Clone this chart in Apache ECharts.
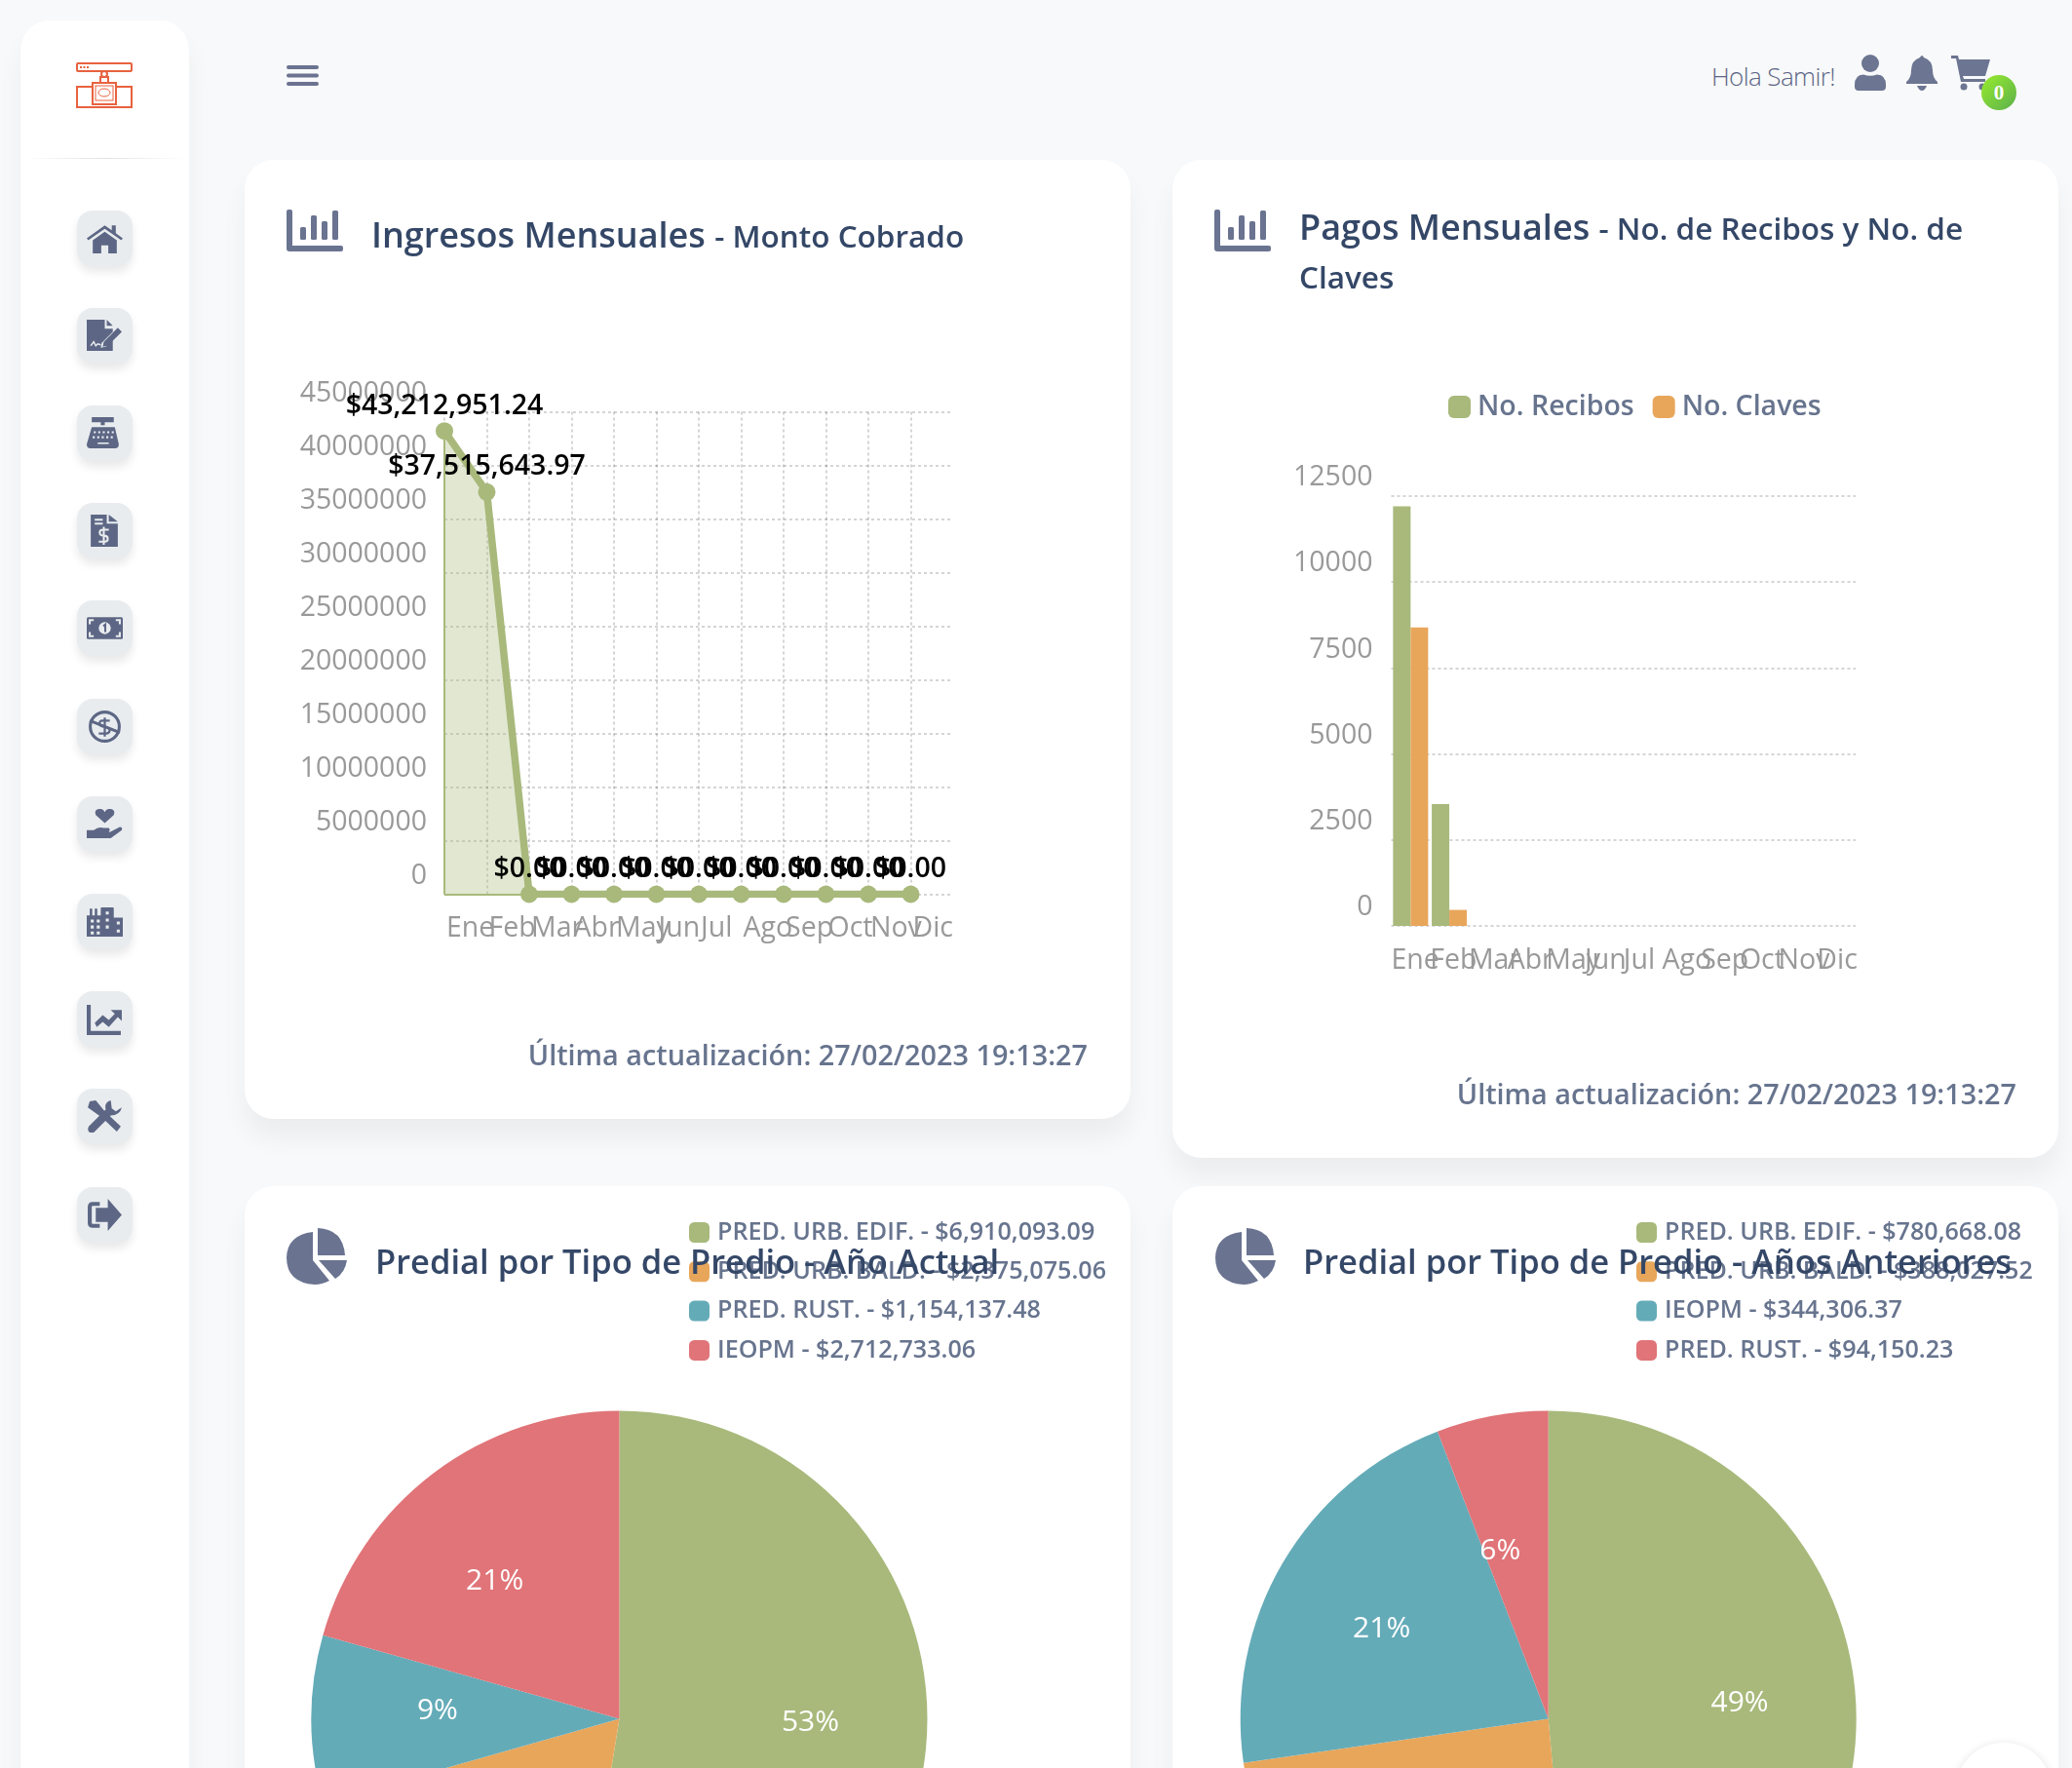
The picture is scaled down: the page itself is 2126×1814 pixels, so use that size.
<!DOCTYPE html>
<html lang="es">
<head>
<meta charset="UTF-8">
<title>Dashboard</title>
<script src="https://cdn.jsdelivr.net/npm/echarts@6/dist/echarts.min.js"></script>
<style>
html,body{margin:0;width:2126px;height:1814px;overflow:hidden;background:#f8f9fa;font-family:"Open Sans",sans-serif;color:#67748e}
.abs,.card,.side,.btn,.ttl,.upd,.chart{position:absolute}
.card,.side{background:#fff;border-radius:30px;box-shadow:0 20px 27px 0 rgba(0,0,0,.05)}
.side{left:21px;top:21px;width:173px;height:1900px}
.rule{position:absolute;left:4px;top:141px;width:165px;height:1px;background:linear-gradient(90deg,transparent,#dfe1e4,transparent)}
.btn{left:79px;width:57px;height:57px;border-radius:16px;background:#e9ecef;box-shadow:0 6px 10px rgba(0,0,0,.09);display:flex;align-items:center;justify-content:center;color:#5d6785}
.ttl{font-size:36px;font-weight:600;color:#344767;line-height:50px;white-space:nowrap;z-index:3}
.ttl small{font-size:31.5px}
.ttl.pie{font-size:34.5px}
.upd{font-size:28.8px;font-weight:600;white-space:nowrap;line-height:40px;z-index:3}
.chart{left:0;top:0;z-index:2}
svg{display:block;fill:currentColor}
</style>
</head>
<body>
<div class="side"><div class="rule"></div></div>
<svg class="abs" style="left:78px;top:63px;color:#e8623f;fill:none;stroke:currentColor;stroke-width:2" width="58" height="50" viewBox="0 0 58 50">
  <rect x="1" y="2" width="56" height="8" rx="1"/><path d="M4 6h9" stroke-dasharray="2 1.5"/>
  <circle cx="29" cy="13" r="3"/><rect x="25" y="16" width="8" height="6"/>
  <path d="M17 26H1v21h56V26H41"/><rect x="17" y="22" width="24" height="22"/><rect x="20" y="25" width="18" height="15" stroke-width="1"/>
  <ellipse cx="29" cy="32" rx="6" ry="4" stroke-width="1"/>
</svg>
<svg class="abs" style="left:294px;top:67px;color:#6b7390" width="33" height="21" viewBox="0 0 33 21"><rect width="33" height="4" rx="2"/><rect y="8.5" width="33" height="4" rx="2"/><rect y="17" width="33" height="4" rx="2"/></svg>
<div class="abs" style="left:1756px;top:58px;font-size:26px;font-weight:300;line-height:40px;white-space:nowrap;letter-spacing:-.6px;color:#5c6685">Hola Samir!</div>
<svg class="abs" style="left:1903px;top:56px;color:#6c7591" width="32" height="37" viewBox="0 0 32 37"><circle cx="16" cy="9" r="9"/><path d="M0 31Q0 21 9 20.5Q16 23 23 20.5Q32 21 32 31V33Q32 37 28 37H4Q0 37 0 33Z"/></svg>
<svg class="abs" style="left:1956px;top:56px;color:#6c7591" width="32" height="37" viewBox="0 0 32 37"><path d="M14 3Q16 -1 18 3Q27 6 27 16Q27 24 32 28V30H0V28Q5 24 5 16Q5 6 14 3Z"/><path d="M11 32H21Q19 37 16 37Q13 37 11 32Z"/></svg>
<svg class="abs" style="left:2001px;top:56px;color:#6c7591" width="41" height="37" viewBox="0 0 41 37"><path d="M1 1H8L9 5H41L36 22H13L14 25H36V28H11L6 4H1Z"/><circle cx="14" cy="33" r="3.5"/><circle cx="33" cy="33" r="3.5"/></svg>
<div class="abs" style="left:2033px;top:77px;width:36px;height:36px;border-radius:50%;background:linear-gradient(135deg,#98ec2d,#5cb04c);color:#fff;font:bold 21px/36px 'Liberation Serif',serif;text-align:center;z-index:4">0</div>

<div class="card" style="left:251px;top:164px;width:909px;height:984px"><div class="chart" id="ingresos" style="width:909px;height:984px"></div></div>
<div class="card" style="left:1203px;top:164px;width:909px;height:1024px"><div class="chart" id="pagos" style="width:909px;height:1024px"></div></div>
<div class="card" style="left:251px;top:1217px;width:909px;height:800px"><div class="chart" id="pie1" style="width:909px;height:597px"></div></div>
<div class="card" style="left:1203px;top:1217px;width:909px;height:800px"><div class="chart" id="pie2" style="width:909px;height:597px"></div></div>

<div class="ttl" style="left:381px;top:216px">Ingresos Mensuales <small>- Monto Cobrado</small></div>
<div class="ttl" style="left:1333px;top:208px;line-height:49px">Pagos Mensuales <small>- No. de Recibos y No. de<br>Claves</small></div>
<div class="ttl pie" style="left:385px;top:1269px">Predial por Tipo de Predio - Año Actual</div>
<div class="ttl pie" style="left:1337px;top:1269px">Predial por Tipo de Predio - Años Anteriores</div>
<div class="upd" style="right:1010px;top:1062px">Última actualización: 27/02/2023 19:13:27</div>
<div class="upd" style="right:57px;top:1102px">Última actualización: 27/02/2023 19:13:27</div>
<div class="abs" style="left:2006px;top:1788px;width:100px;height:100px;border-radius:50%;background:#fff;box-shadow:0 2px 10px rgba(0,0,0,.14);z-index:5"></div>

<script>
// datos
var meses = ['Ene','Feb','Mar','Abr','May','Jun','Jul','Ago','Sep','Oct','Nov','Dic'];
var montoCobrado = [43212951.24,37515643.97,0,0,0,0,0,0,0,0,0,0];
var noRecibos = [12200,3540,0,0,0,0,0,0,0,0,0,0];
var noClaves = [8680,466,0,0,0,0,0,0,0,0,0,0];
var prediosActual = ['PRED. URB. EDIF.','PRED. URB. BALD.','PRED. RUST.','IEOPM'];
var montosActual = [6910093.09,2375075.06,1154137.48,2712733.06];
var prediosAnteriores = ['PRED. URB. EDIF.','PRED. URB. BALD.','IEOPM','PRED. RUST.'];
var montosAnteriores = [780668.08,388027.52,344306.37,94150.23];

var VERDE='#a8b97b', NARANJA='#e8a65b', TEAL='#64abb8', ROJO='#e07478';
var FONT='"Open Sans",sans-serif';
var GRID_LINE={show:true,lineStyle:{color:'rgba(0,0,0,.22)',type:[3,3],width:1.5}};
var LABEL_GRIS={color:'#999',fontSize:28.5,fontFamily:FONT};

function money(v){return '$'+v.toLocaleString('en-US',{minimumFractionDigits:2,maximumFractionDigits:2})}

// eje de etiquetas alineadas al tick, como en la imagen
function ejeMeses(vertical){
  return {type:'category',data:meses.concat(''),boundaryGap:false,
    axisLine:{show:false},axisTick:{show:false},
    axisLabel:Object.assign({},LABEL_GRIS,{interval:0,align:'left',margin:21,padding:[0,0,0,vertical?2:0]}),
    splitLine:vertical?Object.assign({},GRID_LINE,{interval:function(i){return i<12}}):{show:false}};
}
function ejeValor(max,step,margin){
  return {type:'value',min:0,max:max,interval:step,axisLine:{show:false},axisTick:{show:false},
    axisLabel:Object.assign({},LABEL_GRIS,{margin:margin,verticalAlign:'bottom',padding:[0,0,4.5,0],
      formatter:function(v){return String(v)}}),
    splitLine:GRID_LINE};
}

echarts.init(document.getElementById('ingresos')).setOption({
  animation:false,
  grid:{left:205,top:258.5,width:522,height:495},
  xAxis:ejeMeses(true),
  yAxis:ejeValor(45000000,5000000,18),
  series:[{type:'line',data:montoCobrado,symbol:'circle',symbolSize:18,
    itemStyle:{color:VERDE},lineStyle:{color:VERDE,width:7.5},areaStyle:{color:VERDE,opacity:.35},
    label:{show:true,position:'top',distance:2,color:'#000',fontSize:28.5,fontWeight:600,fontFamily:FONT,
      formatter:function(p){return money(p.value)}},
    markLine:{silent:true,symbol:'none',label:{show:false},lineStyle:{color:VERDE,width:2,type:'solid'},
      data:[[{xAxis:0,yAxis:0},{xAxis:0,yAxis:montoCobrado[0]}],[{xAxis:0,yAxis:0},{xAxis:2,yAxis:0}]]}}]
});

echarts.init(document.getElementById('pagos')).setOption({
  animation:false,
  color:[VERDE,NARANJA],
  legend:{left:278,top:234,itemWidth:23,itemHeight:23,itemGap:19,icon:'roundRect',selectedMode:false,
    textStyle:{color:'#67748e',fontSize:28.5,fontWeight:600,fontFamily:FONT,padding:[0,0,0,2]}},
  grid:{left:224.5,top:345,width:476.5,height:441},
  xAxis:[ejeMeses(false),{type:'category',data:meses,show:false}],
  yAxis:ejeValor(12500,2500,19),
  series:[
    {name:'No. Recibos',type:'bar',xAxisIndex:1,data:noRecibos,barWidth:18,barGap:0},
    {name:'No. Claves',type:'bar',xAxisIndex:1,data:noClaves,barWidth:18,barGap:0}
  ]
});

function pastel(id,nombres,montos,cx,legendLeft,ajuste){
  var chart=echarts.init(document.getElementById(id));
  chart.setOption({
    animation:false,
    color:[VERDE,NARANJA,TEAL,ROJO],
    legend:{orient:'vertical',left:legendLeft,top:30,itemWidth:21,itemHeight:21,itemGap:15.3,icon:'roundRect',selectedMode:false,
      formatter:function(n){return n+' - '+money(montos[nombres.indexOf(n)])},
      textStyle:{color:'#67748e',fontSize:25.1,fontWeight:600,fontFamily:FONT,padding:[0,0,0,3]}},
    series:[{type:'pie',center:[cx,546.5],radius:316,startAngle:90,clockwise:true,avoidLabelOverlap:false,
      data:nombres.map(function(n,i){return {name:n,value:montos[i]}}),
      label:{position:'inside',color:'#fff',fontSize:30,fontFamily:FONT,
        formatter:function(p){return Math.round(p.percent)+'%'}},
      labelLine:{show:false},
      labelLayout:function(p){
        var r=p.labelRect, k=190/158-1, a=ajuste[p.dataIndex];
        return {dx:(r.x+r.width/2-cx)*k+a[0],dy:(r.y+r.height/2-546.5)*k-11+a[1]};
      }}]
  });
}
pastel('pie1',prediosActual,montosActual,384.5,451,[[3,0],[0,0],[7,3],[-11,24]]);
pastel('pie2',prediosAnteriores,montosAnteriores,385.7,471,[[3,4],[0,0],[-4,17],[-14,29]]);

// iconos de la barra lateral
var bg='#e9ecef';
var iconos=[
 '<path d="M0 16L18 3L25 8V3H29V11L36 16L34.5 18L18 6.5L1.5 18Z"/><path d="M6 18L18 9.5L30 18V31H21.5V23H14.5V31H6Z"/>',
 '<path d="M0 0H18V9H26V12L15 23L14 28L19 27L26 20V31H0Z"/><path d="M20 0L26 6H20Z"/><path d="M17 22L31 8L35 12L21 26L16 27Z"/><path d="M4 26l3-4 2 4 2-2 3 1" fill="none" stroke="'+bg+'" stroke-width="1.4"/>',
 '<path d="M5 0H27V5H18V8H14V5H5Z"/><path d="M5 10H28L32 27Q32 31 29 31H3Q0 31 0 27Z"/><path d="M7 15H27M6 20H28" stroke="'+bg+'" stroke-width="2" stroke-dasharray="2 2.5"/><path d="M11 26H22" stroke="'+bg+'" stroke-width="1.5"/>',
 '<g transform="translate(4 0)"><path d="M0 0H16V9H27V32H0Z"/><path d="M18 0L27 7H18Z"/><path d="M4 5H12M4 9H12" stroke="'+bg+'" stroke-width="2"/><path d="M18 15H12Q9 15 9 18Q9 21 13 21Q17 21 17 24Q17 27 14 27H8M13 12V30" fill="none" stroke="'+bg+'" stroke-width="2"/></g>',
 '<rect y="5" width="36" height="22" rx="1.5"/><circle cx="18" cy="16" r="6" fill="'+bg+'"/><path d="M16.5 14L18.5 12.5V20" fill="none" stroke="currentColor" stroke-width="2"/><path d="M3 12V8H7M33 12V8H29M3 20V24H7M33 20V24H29" fill="none" stroke="'+bg+'" stroke-width="2"/>',
 '<g fill="none" stroke="currentColor" stroke-width="3"><circle cx="18" cy="16" r="14.5"/><path d="M3 10L33 22"/><path d="M23 10H16Q12 10 13 14Q14 16 18 16Q23 17 23 20Q22 23 19 23H12M18 7V26" stroke-width="2.2"/></g>',
 '<path d="M18 15L9 7Q7 2 12 1Q16 0 18 4Q20 0 24 1Q29 2 27 7Z"/><path d="M0 22H7Q12 18 17 20H22Q24 22 22 24H16H23L33 19Q36 19 35 22L24 30H0Z"/>',
 '<path d="M0 10H3V3H5.5V10H8V3H10.5V10H14V3Q14 2 15 2H26Q27 2 27 3V12H36V31H0Z"/><path d="M4 14h3v3h-3zM10 14h3v3h-3zM4 20h3v3h-3zM10 20h3v3h-3zM4 26h3v3h-3zM10 26h3v3h-3zM19 6h3v3h-3zM19 13h3v3h-3zM19 20h3v3h-3zM30 16h3v3h-3zM30 24h3v3h-3z" fill="'+bg+'"/>',
 '<path d="M0 2H4V28H34V32H0Z"/><path d="M8 20L16 12L22 17L28 11L24 7H35V18L31 14L22 24L16 19L10 24Z"/>',
 '<path d="M3 1L9 0L18 11L34 26L30 31L15 17L1 7Z"/><path d="M24 0Q17 2 19 9L2 26Q0 30 3 32Q6 33 8 31L24 15Q33 15 35 7L29 11L25 8Z"/>',
 '<path d="M13 3H6Q1 3 1 8V24Q1 29 6 29H13V25H6Q5 25 5 24V8Q5 7 6 7H13Z"/><path d="M21 0L35 16L21 32V23H9V9H21Z"/>'
];
var lateral=document.querySelector('.side');
iconos.forEach(function(svg,i){
  var b=document.createElement('div');
  b.className='btn';
  b.style.left='58px';
  b.style.top=(244+100.2*i-28.5-21)+'px';
  b.innerHTML='<svg width="37" height="33" viewBox="0 0 36 32">'+svg+'</svg>';
  lateral.appendChild(b);
});

// iconos de las tarjetas
var barras='<svg width="58" height="43" viewBox="0 0 58 43"><path d="M0 2Q0 0 2 0H4Q6 0 6 2V37H56Q58 37 58 39V41Q58 43 56 43H3Q0 43 0 40Z"/><rect x="14" y="18" width="6" height="13" rx="1.5"/><rect x="25" y="6" width="6" height="25" rx="1.5"/><rect x="36" y="12" width="6" height="19" rx="1.5"/><rect x="47" y="1" width="6" height="30" rx="1.5"/></svg>';
var tarta='<svg width="62" height="58" viewBox="0 0 62 58"><path d="M27 4V33L44 54Q36 58 29 58Q0 56 0 30Q1 7 27 4Z"/><path d="M32 0Q58 1 60 28H32Z"/><path d="M33 33H62Q60 46 50 52Z"/></svg>';
[[294,215,barras],[1246,215,barras],[294,1260,tarta],[1247,1260,tarta]].forEach(function(c){
  var d=document.createElement('div');
  d.className='abs';
  d.style.cssText='left:'+c[0]+'px;top:'+c[1]+'px;color:#6a7390;z-index:3';
  d.innerHTML=c[2];
  document.body.appendChild(d);
});
</script>
</body>
</html>
